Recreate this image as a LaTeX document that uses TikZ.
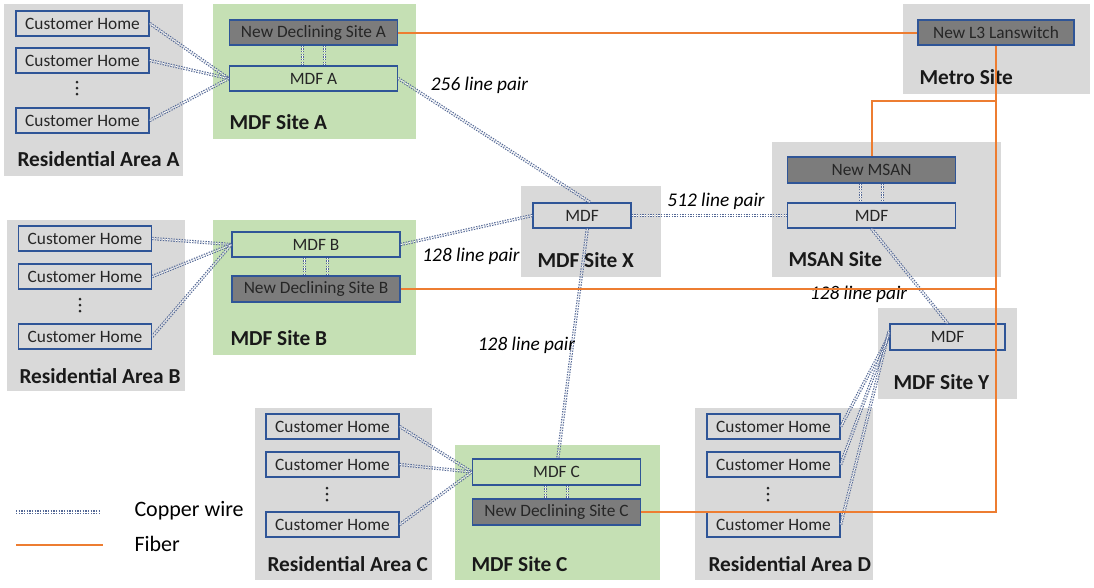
\documentclass[tikz,border=0pt]{standalone}
\usepackage{fontspec}
\setmainfont{Carlito}
\definecolor{areagray}{RGB}{217,217,217}
\definecolor{sitegreen}{RGB}{197,224,180}
\definecolor{boxblue}{RGB}{47,85,151}
\definecolor{newgray}{RGB}{124,124,124}
\definecolor{cublue}{RGB}{85,105,150}
\definecolor{fibreorange}{RGB}{237,125,49}

\tikzset{every picture/.style={line width=0.75pt}}

\begin{document}
\begin{tikzpicture}[x=0.75pt,y=0.75pt,yscale=-1,xscale=1,
  areabg/.style={fill=areagray},
  sitebg/.style={fill=sitegreen},
  boxtext/.style={draw=boxblue, line width=1.1pt, inner sep=0pt, text=black!85, font=\fontsize{13}{15}\selectfont},
  homebox/.style={boxtext, minimum width=99.75pt, minimum height=18.75pt},
  mdfbox/.style={boxtext, minimum width=126pt, minimum height=18.75pt},
  newbox/.style={mdfbox, fill=newgray},
  sitelabel/.style={anchor=west, inner sep=0.75pt, text=black!90, font=\fontsize{16}{19}\bfseries\selectfont},
  pairlabel/.style={inner sep=0.75pt, font=\fontsize{14.5}{17}\itshape\selectfont},
  legendlabel/.style={anchor=west, inner sep=0.75pt, font=\fontsize{16.5}{19}\selectfont},
  copper/.style={draw=cublue, line width=0.85pt, dash pattern=on 1pt off 1pt, double=white, double distance=0.75pt},
  fibre/.style={draw=fibreorange, line width=1.5pt}
]
\useasboundingbox (0,0) rectangle (1094,587);

%Shape: Rectangle areas
\fill [areabg] (4,4) rectangle (183,176);
\fill [sitebg] (213,4) rectangle (416,139);
\fill [areabg] (903,4) rectangle (1090,94);
\fill [areabg] (772,142) rectangle (1001,277);
\fill [areabg] (521,186) rectangle (661,277);
\fill [areabg] (7,220) rectangle (185,391);
\fill [sitebg] (213,220) rectangle (416,355);
\fill [areabg] (878,308) rectangle (1017,399);
\fill [areabg] (255,408) rectangle (432,580);
\fill [sitebg] (455,445) rectangle (660,580);
\fill [areabg] (695,408) rectangle (873,580);

%Boxes: Residential Area A and MDF Site A
\node [homebox] (homeA1) at (82.5,23.5) {Customer Home};
\node [homebox] (homeA2) at (82.5,60.5) {Customer Home};
\node [homebox] (homeA3) at (82.5,120.5) {Customer Home};
\node [newbox] (newA) at (313.5,32.5) {New Declining Site A};
\node [mdfbox] (mdfA) at (313.5,78.5) {MDF A};

%Boxes: Metro Site, MSAN Site, MDF Site X
\node [newbox, minimum width=117pt] (l3) at (996,32.5) {New L3 Lanswitch};
\node [newbox, minimum height=19.5pt] (newMsan) at (871.5,170) {New MSAN};
\node [mdfbox] (mdfMsan) at (871.5,215.5) {MDF};
\node [mdfbox, minimum width=73.5pt] (mdfX) at (582,215.5) {MDF};

%Boxes: Residential Area B and MDF Site B
\node [homebox] (homeB1) at (85,238.5) {Customer Home};
\node [homebox] (homeB2) at (85,276.5) {Customer Home};
\node [homebox] (homeB3) at (85,336.5) {Customer Home};
\node [mdfbox] (mdfB) at (316,244.5) {MDF B};
\node [newbox, minimum height=19.5pt] (newB) at (316,289) {New Declining Site B};

%Boxes: MDF Site Y
\node [mdfbox, minimum width=86.25pt, minimum height=19.5pt] (mdfY) at (947.5,337) {MDF};

%Boxes: Residential Area C and MDF Site C
\node [homebox] (homeC1) at (332.5,426.5) {Customer Home};
\node [homebox] (homeC2) at (332.5,464.5) {Customer Home};
\node [homebox] (homeC3) at (332.5,524.5) {Customer Home};
\node [mdfbox, minimum height=19.5pt] (mdfC) at (556.5,472) {MDF C};
\node [newbox, minimum height=19.5pt] (newC) at (556.5,512) {New Declining Site C};

%Boxes: Residential Area D
\node [homebox] (homeD1) at (773.5,426.5) {Customer Home};
\node [homebox] (homeD2) at (773.5,464.5) {Customer Home};
\node [homebox] (homeD3) at (773.5,524.5) {Customer Home};

%Vertical dots between homes
\foreach \dx/\dy in {77/88, 80/305, 327/494, 768/494}
  \foreach \k in {-6,0,6}
    \fill [black!85] (\dx,\dy+\k) circle (1.5);

% Text Node
\draw (16,159) node [sitelabel] (labResA) {Residential Area A};
% Text Node
\draw (228,122) node [sitelabel] (labSiteA) {MDF Site A};
% Text Node
\draw (918,77) node [sitelabel] (labMetro) {Metro Site};
% Text Node
\draw (787,259) node [sitelabel] (labMsan) {MSAN Site};
% Text Node
\draw (536,260) node [sitelabel] (labSiteX) {MDF Site X};
% Text Node
\draw (18,376) node [sitelabel] (labResB) {Residential Area B};
% Text Node
\draw (229,338) node [sitelabel] (labSiteB) {MDF Site B};
% Text Node
\draw (892,382) node [sitelabel] (labSiteY) {MDF Site Y};
% Text Node
\draw (266,564) node [sitelabel] (labResC) {Residential Area C};
% Text Node
\draw (470,564) node [sitelabel] (labSiteC) {MDF Site C};
% Text Node
\draw (707,564) node [sitelabel] (labResD) {Residential Area D};

%Copper wires: homes to MDFs
\draw [copper] (homeA1.east) -- (mdfA.west);
\draw [copper] (homeA2.east) -- (mdfA.west);
\draw [copper] (homeA3.east) -- (mdfA.west);
\draw [copper] (homeB1.east) -- (mdfB.west);
\draw [copper] (homeB2.east) -- (mdfB.west);
\draw [copper] (homeB3.east) -- (mdfB.west);
\draw [copper] (homeC1.east) -- (mdfC.west);
\draw [copper] (homeC2.east) -- (mdfC.west);
\draw [copper] (homeC3.east) -- (mdfC.west);
\draw [copper] (homeD1.east) -- ([yshift=-1pt]mdfY.west);
\draw [copper] (homeD2.east) -- ([yshift=-3pt]mdfY.west);
\draw [copper] (homeD3.east) -- ([yshift=-5pt]mdfY.west);

%Copper wires: declining sites to MDFs
\draw [copper] ([xshift=-8.5pt]newA.south) -- ([xshift=-8.5pt]mdfA.north);
\draw [copper] ([xshift=8.5pt]newA.south) -- ([xshift=8.5pt]mdfA.north);
\draw [copper] ([xshift=-8.5pt]mdfB.south) -- ([xshift=-8.5pt]newB.north);
\draw [copper] ([xshift=8.5pt]mdfB.south) -- ([xshift=8.5pt]newB.north);
\draw [copper] ([xshift=-8.5pt]mdfC.south) -- ([xshift=-8.5pt]newC.north);
\draw [copper] ([xshift=8.5pt]mdfC.south) -- ([xshift=8.5pt]newC.north);
\draw [copper] ([xshift=-8.5pt]newMsan.south) -- ([xshift=-8.5pt]mdfMsan.north);
\draw [copper] ([xshift=8.5pt]newMsan.south) -- ([xshift=8.5pt]mdfMsan.north);

%Copper wires: MDF to MDF
\draw [copper] (mdfA.east) -- ([xshift=6pt]mdfX.north);
\draw [copper] (mdfB.east) -- (mdfX.west);
\draw [copper] (mdfX.east) -- (mdfMsan.west);
\draw [copper] ([xshift=4pt]mdfX.south) -- ([xshift=1pt]mdfC.north);
\draw [copper] (mdfMsan.south) -- (mdfY.north);

% Text Node
\draw (479.5,85) node [pairlabel] (pairAX) {256 line pair};
% Text Node
\draw (471,256) node [pairlabel] (pairBX) {128 line pair};
% Text Node
\draw (716,201) node [pairlabel] (pairXM) {512 line pair};
% Text Node
\draw (526.5,345) node [pairlabel] (pairXC) {128 line pair};
% Text Node
\draw (858.5,294) node [pairlabel] (pairMY) {128 line pair};

%Fiber
\coordinate (msanTap) at (996,101);
\draw [fibre] (newA.east) -- (l3.west);
\draw [fibre] (l3.south) -- (l3.south |- newC.east) -- (newC.east);
\draw [fibre] (newB.east) -- (newB.east -| l3.south);
\draw [fibre] (newMsan.north) |- (msanTap);

%Legend
\coordinate (legCuL) at (16,512);
\coordinate (legCuR) at (100,512);
\coordinate (legFiL) at (16,545);
\coordinate (legFiR) at (103,545);
\draw [copper] (legCuL) -- (legCuR);
\draw [fibre] (legFiL) -- (legFiR);
% Text Node
\draw (133,511) node [legendlabel] (legCu) {Copper wire};
% Text Node
\draw (133,544) node [legendlabel] (legFi) {Fiber};

\end{tikzpicture}
\end{document}
